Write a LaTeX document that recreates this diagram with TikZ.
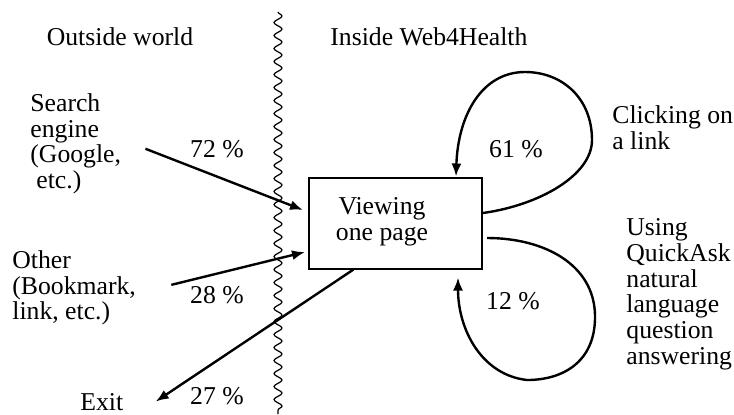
\documentclass[tikz,border=0pt]{standalone}
\usepackage{fontspec}
\setmainfont{Liberation Serif}
\usepackage{tikz}
\usetikzlibrary{arrows.meta,
                decorations.pathmorphing,
                positioning}
\tikzset{txt/.style=
   {font=\fontsize{12.85pt}{12.9pt}\selectfont,
    inner sep=0pt,
    align=left}}
\tikzset{block/.style=
   {rectangle,
    draw,
    line width=1pt,
    minimum width=86.5pt,
    minimum height=45.5pt}}
\tikzset{arrow/.style = {draw, line width=1.2pt, -{Latex[length=6.5pt,width=5pt]}}}
\tikzset{border/.style = {draw, line width=0.6pt,
    decorate, decoration={snake, amplitude=2pt, segment length=6.5pt}}}

\begin{document}
\begin{tikzpicture}[x=0.5pt, y=-0.5pt]

    \useasboundingbox (0,0) rectangle (734,414);

    % Border between the two worlds
    \coordinate (wtop) at (278,12);
    \coordinate (wbot) at (278,414);
    \path [border] (wtop) -- (wbot);

    % Headings
    \node [txt, anchor=base] (outside) at (120,45) {Outside world};
    \node [txt, anchor=base west] (inside) at (330,45) {Inside Web4Health};

    % Blocks
    \node [block] (view) at (395.5,223) {};
    \node [txt, align=center] (viewtxt) at (382,222) {Viewing\\one page};

    % Sources and targets
    \node [txt, anchor=north west] (search) at (30,93)
        {Search\\engine\\(Google,\\\hspace*{3pt}etc.)};
    \node [txt, anchor=north west] (other) at (12,250)
        {Other\\(Bookmark,\\link, etc.)};
    \node [txt, anchor=base west] (exit) at (80,410) {Exit};
    \node [txt, anchor=north west] (click) at (612,105.5)
        {Clicking on\\a link};
    \node [txt, anchor=north west] (quick) at (626,218)
        {Using\\QuickAsk\\natural\\language\\question\\answering};

    % Percentages
    \node [txt, anchor=base] (p72) at (217,157) {72 \%};
    \node [txt, anchor=base] (p28) at (217,303) {28 \%};
    \node [txt, anchor=base] (p27) at (217,404) {27 \%};
    \node [txt, anchor=base] (p61) at (516,157) {61 \%};
    \node [txt, anchor=base] (p12) at (513,309) {12 \%};

    % Draw edges

    \path [arrow]
    ([shift={(24,5)}]search.east) -- ([shift={(-5,-13)}]view.west);

    \path [arrow]
    ([shift={(35,-3)}]other.east) -- ([shift={(-3,29)}]view.west);

    \path [arrow]
    ([shift={(-42,0)}]view.south) -- ([shift={(32,0)}]exit.east);

    \path [arrow]
    ([shift={(0,-10)}]view.east) .. controls (540,205) and (592,175) .. (592,140)
    .. controls (592,98) and (562,72) .. (525,72)
    .. controls (482,72) and (458,115) .. ([shift={(60.5,0)}]view.north);

    \path [arrow]
    ([shift={(4,15)}]view.east) .. controls (545,238) and (594,265) .. (595,315)
    .. controls (596,360) and (565,380) .. (527,380)
    .. controls (482,375) and (458,330) .. ([shift={(62.5,8)}]view.south);

\end{tikzpicture}
\end{document}
